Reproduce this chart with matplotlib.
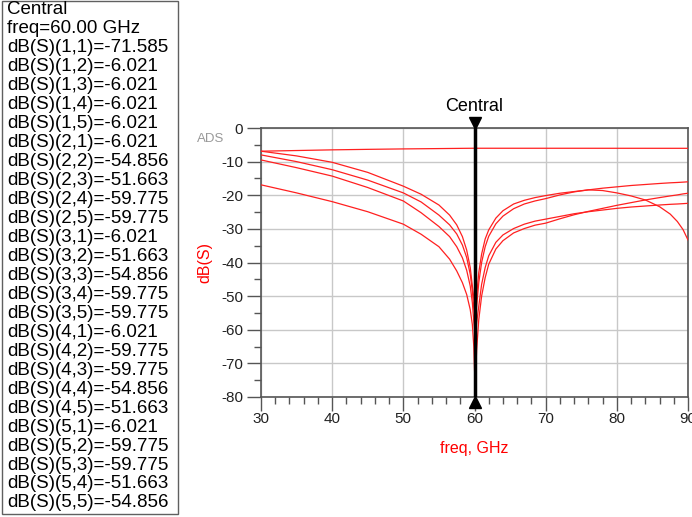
import numpy as np
import matplotlib
matplotlib.use("Agg")
import matplotlib.pyplot as plt
from matplotlib.patches import Rectangle
from matplotlib.ticker import MultipleLocator
from matplotlib.transforms import offset_copy

plt.rcParams['font.family'] = ['Liberation Sans', 'DejaVu Sans']
plt.rcParams['axes.unicode_minus'] = False

# frequency points, GHz
freq = [30, 35, 40, 45, 50, 52.5, 55, 56.5, 57.5, 58.3, 58.9, 59.4, 59.7, 59.9, 60,
        60.1, 60.3, 60.6, 61, 61.5, 62, 63, 64, 65.5, 67, 68.5, 70, 72, 74, 76,
        78, 80, 82, 84, 86, 87.5, 88.5, 89.3, 90]

# through path (S12 and friends), dB
s_thru = [-6.90, -6.70, -6.50, -6.35, -6.22, -6.17, -6.12, -6.09, -6.07, -6.05,
          -6.04, -6.03, -6.025, -6.022, -6.021,
          -6.021, -6.021, -6.021, -6.021, -6.021, -6.021, -6.022, -6.022, -6.023,
          -6.023, -6.024, -6.025, -6.026, -6.027, -6.028, -6.030, -6.031, -6.033,
          -6.035, -6.037, -6.038, -6.039, -6.040, -6.041]

# isolation / match curves with the notch at 60 GHz, dB
s_a = [-6.9, -8.3, -10.2, -13.2, -17.3, -19.7, -22.9, -25.9, -28.8, -32.3,
       -36.3, -41.5, -47.0, -50.5, -51.663,
       -54.0, -50.0, -43.0, -37.5, -33.0, -30.3, -26.8, -24.6, -22.6, -21.5,
       -20.7, -20.1, -19.4, -18.9, -18.4, -17.9, -17.5, -17.1, -16.8, -16.5,
       -16.3, -16.2, -16.1, -16.0]
s_b = [-8.0, -10.0, -12.4, -15.5, -19.3, -22.0, -25.9, -28.8, -31.5, -34.8,
       -38.5, -43.5, -48.5, -53.5, -54.856,
       -57.0, -53.0, -46.0, -40.0, -35.3, -32.2, -28.5, -26.2, -24.0, -22.6,
       -21.7, -21.0, -19.9, -19.0, -18.4, -18.6, -19.3, -20.2, -21.4, -23.4,
       -25.6, -27.8, -30.2, -33.3]
s_c = [-9.5, -11.8, -14.3, -17.7, -21.7, -25.2, -29.3, -32.3, -35.3, -38.6,
       -42.3, -47.0, -52.0, -57.5, -59.775,
       -62.0, -58.0, -53.0, -46.5, -41.5, -38.0, -34.0, -31.8, -29.9, -28.6,
       -27.7, -27.1, -26.3, -25.5, -24.9, -24.4, -23.9, -23.5, -23.2, -22.9,
       -22.7, -22.6, -22.5, -22.4]
s_d = [-16.9, -19.3, -21.9, -24.9, -28.6, -31.6, -35.3, -39.0, -42.5, -46.0,
       -49.5, -54.0, -58.5, -65.0, -71.585,
       -76.4, -66.0, -57.0, -50.0, -44.5, -40.5, -36.0, -33.5, -31.2, -29.9,
       -28.9, -28.3, -27.0, -25.8, -24.8, -23.9, -23.0, -22.2, -21.4, -20.7,
       -20.2, -19.9, -19.6, -19.4]

# marker readout
marker_name = "Central"
marker_freq = 60.0
readout_ports = ["(1,1)", "(1,2)", "(1,3)", "(1,4)", "(1,5)",
                 "(2,1)", "(2,2)", "(2,3)", "(2,4)", "(2,5)",
                 "(3,1)", "(3,2)", "(3,3)", "(3,4)", "(3,5)",
                 "(4,1)", "(4,2)", "(4,3)", "(4,4)", "(4,5)",
                 "(5,1)", "(5,2)", "(5,3)", "(5,4)", "(5,5)"]
readout_vals = [-71.585, -6.021, -6.021, -6.021, -6.021,
                -6.021, -54.856, -51.663, -59.775, -59.775,
                -6.021, -51.663, -54.856, -59.775, -59.775,
                -6.021, -59.775, -59.775, -54.856, -51.663,
                -6.021, -59.775, -59.775, -51.663, -54.856]

W, H = 692, 517
fig = plt.figure(figsize=(W / 100, H / 100), dpi=100)
ax = fig.add_axes([261 / W, 1 - 397 / H, 427 / W, 269 / H])

for ys in (s_thru, s_a, s_b, s_c, s_d):
    ax.plot(freq, ys, color='#ff2020', lw=0.9, zorder=3)

ax.set_xlim(30, 90)
ax.set_ylim(-80, 0)
ax.xaxis.set_major_locator(MultipleLocator(10))
ax.xaxis.set_minor_locator(MultipleLocator(2))
ax.yaxis.set_major_locator(MultipleLocator(10))
ax.yaxis.set_minor_locator(MultipleLocator(5))
ax.grid(True, which='major', color='#c8c8c8', lw=1.0, zorder=0)
ax.tick_params(which='major', direction='out', length=10, width=1.0,
               color='#555555', labelsize=11, labelcolor='#222222', pad=3)
ax.tick_params(axis='x', which='major', pad=0.5)
ax.tick_params(which='minor', direction='out', length=5, width=1.0,
               color='#555555')
for sp in ax.spines.values():
    sp.set_color('#555555')
    sp.set_linewidth(1.2)

ax.set_xlabel("freq, GHz", color='#ff0000', fontsize=11.5, labelpad=11)
ax.set_ylabel("dB(S)", color='#ff0000', fontsize=11.5, labelpad=6)

# marker line and triangles
ax.axvline(marker_freq, color='black', lw=2.5, zorder=5)
top_tr = offset_copy(ax.transData, fig=fig, y=5, units='dots')
bot_tr = offset_copy(ax.transData, fig=fig, y=-5, units='dots')
ax.plot([marker_freq], [0], marker='v', color='black', ms=9, transform=top_tr,
        clip_on=False, zorder=6)
ax.plot([marker_freq], [-80], marker='^', color='black', ms=9, transform=bot_tr,
        clip_on=False, zorder=6)
ax.text(marker_freq, 0, marker_name,
        transform=offset_copy(ax.transData, fig=fig, y=22, units='dots'),
        ha='center', va='center', fontsize=13, color='black')

fig.text(211 / W, 1 - 139 / H, "ADS", fontsize=9.5, color='#999999',
         ha='center', va='center')

# readout box
fig.patches.append(Rectangle((2 / W, 1 - 514 / H), 176 / W, 513 / H,
                             transform=fig.transFigure, fill=False,
                             edgecolor='#606060', lw=1.0))
lines = [marker_name, "freq=%.2f GHz" % marker_freq]
lines += ["dB(S)%s=%.3f" % (p, v) for p, v in zip(readout_ports, readout_vals)]
for i, s in enumerate(lines):
    fig.text(7 / W, 1 - (10 + i * 18.96) / H, s, fontsize=13.5, color='black',
             ha='left', va='center')

fig.savefig("out.png", dpi=100)
